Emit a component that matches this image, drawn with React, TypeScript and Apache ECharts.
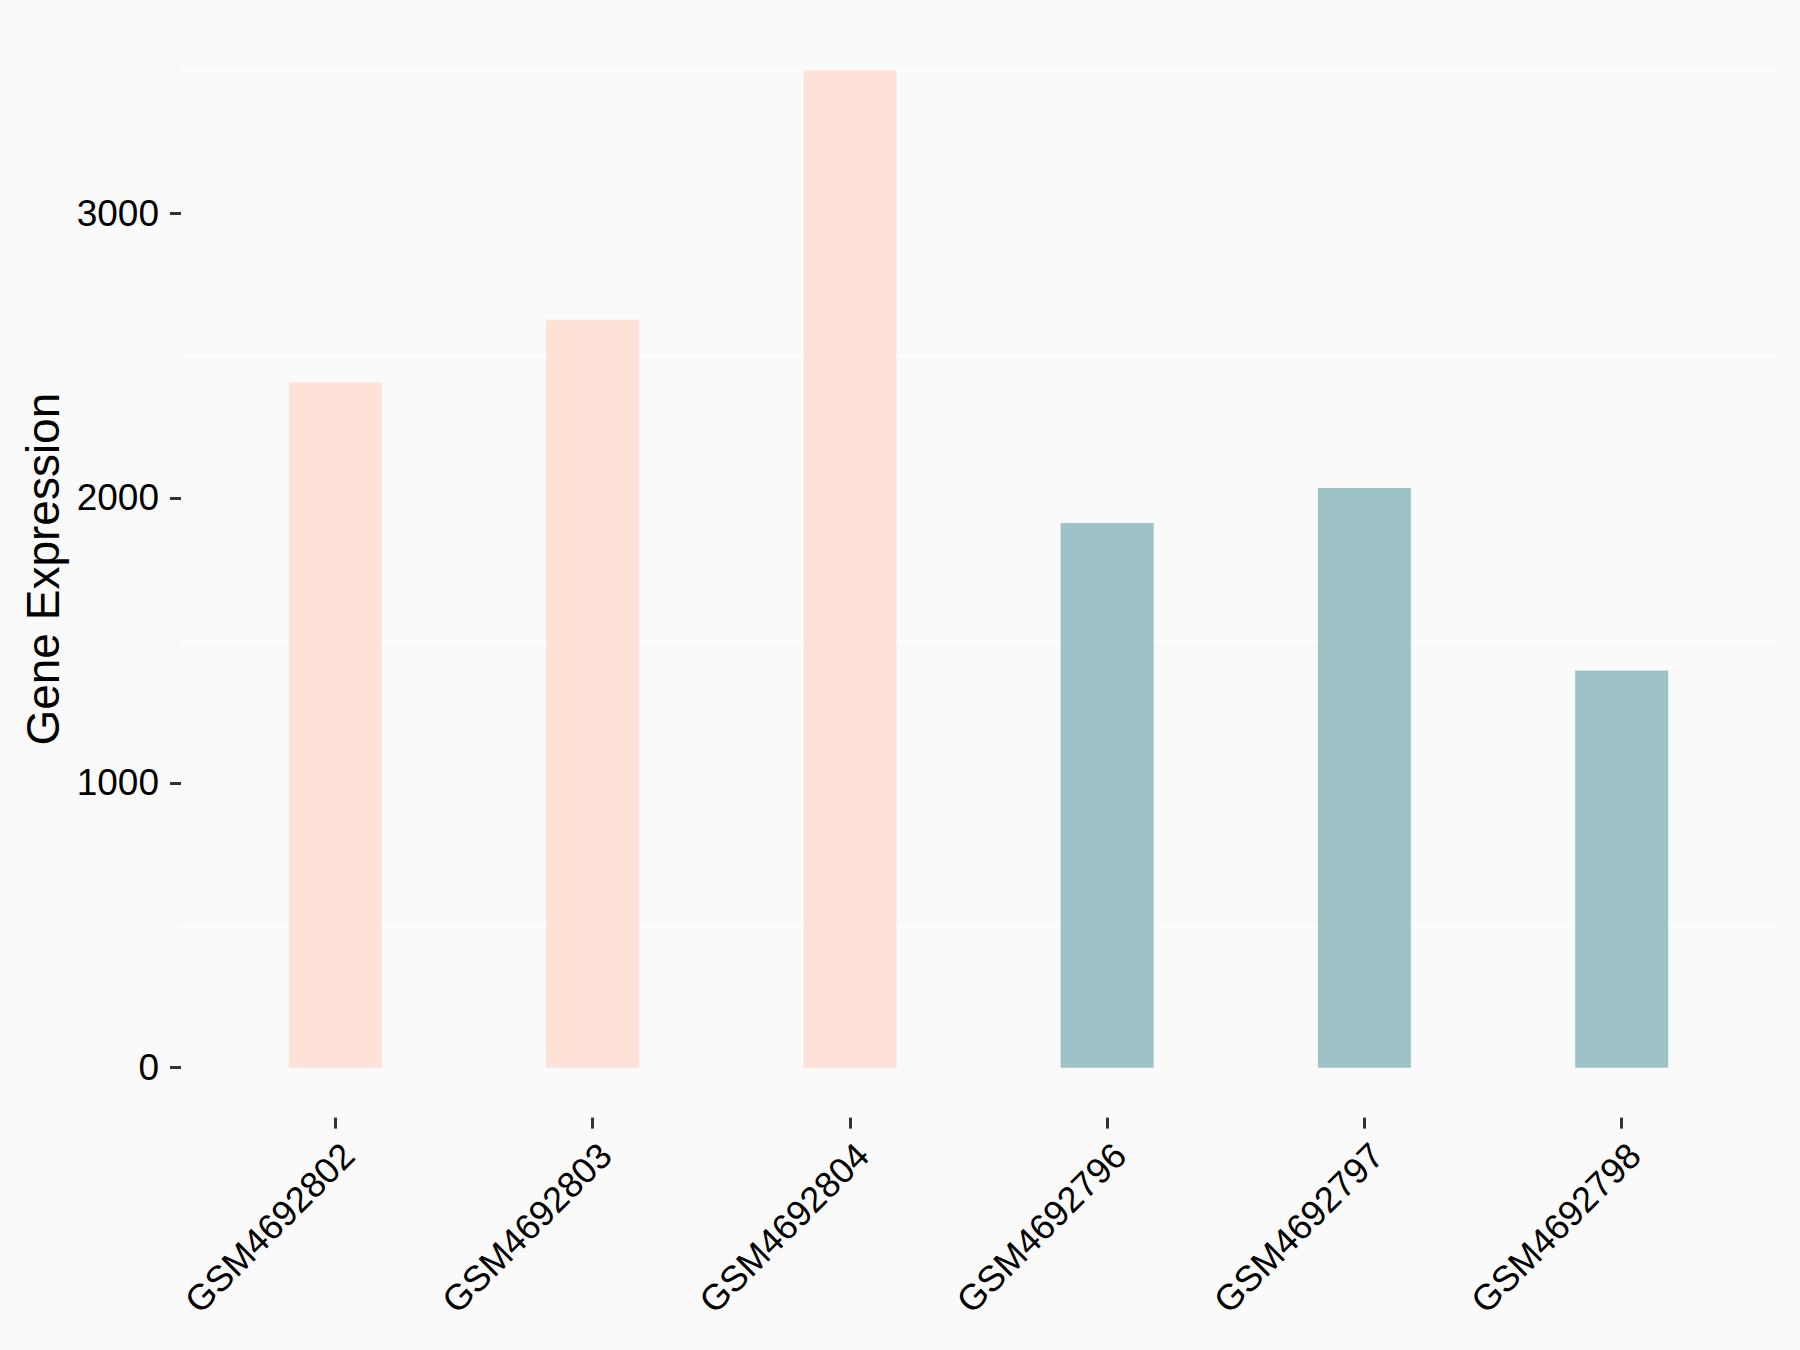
import React, { useEffect, useRef } from "react";
import * as echarts from "echarts";

const categories = ["GSM4692802", "GSM4692803", "GSM4692804", "GSM4692796", "GSM4692797", "GSM4692798"];
const values = [2405, 2625, 3500, 1912, 2035, 1394];
const groups = ["A", "A", "A", "B", "B", "B"];
const groupColors: Record<string, string> = { A: "#FEE1D7", B: "#9DC3C7" };
const yTicks = [0, 1000, 2000, 3000];
const gridValues = [500, 1500, 2500, 3500];
const xPositions = [0, 1, 2, 3, 4, 5];

const FONT = "Liberation Sans, Arial, Helvetica, sans-serif";

export default function App() {
  const ref = useRef<HTMLDivElement>(null);
  useEffect(() => {
    if (!ref.current) return;
    const chart = echarts.init(ref.current, undefined, { renderer: "svg" });
    chart.setOption({
      animation: false,
      backgroundColor: "#FAFAFA",
      grid: { left: 181, right: 24, top: 20.7, bottom: 232.4, containLabel: false },
      xAxis: {
        type: "value",
        min: -0.6,
        max: 5.6,
        axisLine: { show: false, onZero: false },
        splitLine: { show: false },
        axisTick: { show: true, customValues: xPositions, length: 11, lineStyle: { color: "#333333", width: 3 } },
        axisLabel: {
          show: true,
          customValues: xPositions,
          formatter: (v: number) => categories[Math.round(v)] ?? "",
          rotate: 45,
          verticalAlign: "top",
          align: "right",
          margin: 19,
          fontSize: 36,
          fontFamily: FONT,
          color: "#000000",
        },
      },
      yAxis: {
        type: "value",
        min: -175,
        max: 3675,
        name: "Gene Expression",
        nameLocation: "middle",
        nameRotate: 90,
        nameGap: 110,
        nameTextStyle: { fontSize: 46, fontFamily: FONT, color: "#000000" },
        axisLine: { show: false, onZero: false },
        splitLine: { show: false },
        axisTick: { show: true, customValues: yTicks, length: 11, lineStyle: { color: "#333333", width: 3 } },
        axisLabel: {
          show: true,
          customValues: yTicks,
          formatter: (v: number) => String(v),
          margin: 22,
          fontSize: 37,
          fontFamily: FONT,
          color: "#000000",
        },
      },
      series: [
        {
          type: "bar",
          z: 3,
          barWidth: 93,
          data: values.map((v, i) => ({
            value: [xPositions[i], v],
            itemStyle: { color: groupColors[groups[i]] },
          })),
          markLine: {
            z: 1,
            silent: true,
            symbol: "none",
            label: { show: false },
            lineStyle: { color: "#FFFFFF", width: 2, type: "solid" },
            data: gridValues.map((g) => ({ yAxis: g })),
          },
        },
      ],
    });
    return () => chart.dispose();
  }, []);
  return (
    <div
      ref={ref}
      style={{ position: "absolute", left: 0, top: 0, width: 1800, height: 1350 }}
    />
  );
}
